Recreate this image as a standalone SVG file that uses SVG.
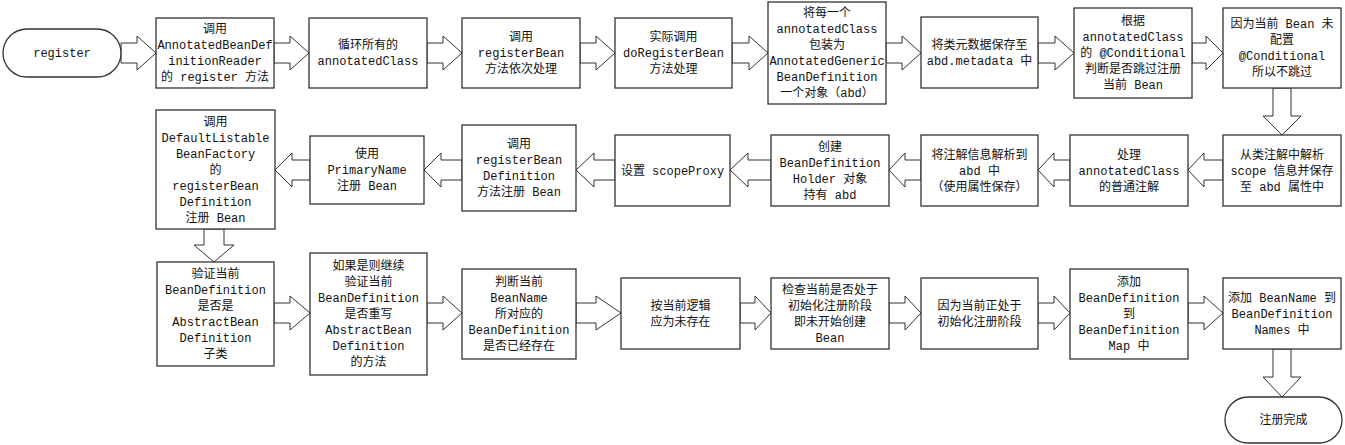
<svg xmlns="http://www.w3.org/2000/svg" width="1345" height="445" viewBox="0 0 1345 445">
<style>
.b{fill:#fff;stroke:#333;stroke-width:1.3}
.a{fill:#fff;stroke:#333;stroke-width:1}
text{font-family:"Liberation Mono","Noto Sans CJK SC",monospace;font-size:12px;fill:#111;text-anchor:middle}
</style>
<rect width="1345" height="445" fill="#fff"/>
<g id="connectors">
<polygon class="a" points="121,43 137,43 137,36 156,53 137,70 137,63 121,63"/>
<polygon class="a" points="274,43 290,43 290,36 309,53 290,70 290,63 274,63"/>
<polygon class="a" points="427,43 443,43 443,36 462,53 443,70 443,63 427,63"/>
<polygon class="a" points="580,43 596,43 596,36 615,53 596,70 596,63 580,63"/>
<polygon class="a" points="732,43 749,43 749,36 768,53 749,70 749,63 732,63"/>
<polygon class="a" points="886,43 902,43 902,36 921,53 902,70 902,63 886,63"/>
<polygon class="a" points="1038,43 1055,43 1055,36 1074,53 1055,70 1055,63 1038,63"/>
<polygon class="a" points="1192,43 1206,43 1206,36 1223,53 1206,70 1206,63 1192,63"/>
<polygon class="a" points="1273,88 1291,88 1291,116 1301,116 1282,135 1263,116 1273,116"/>
<polygon class="a" points="1223,160 1204,160 1204,153 1188,170 1204,187 1204,180 1223,180"/>
<polygon class="a" points="1070,160 1054,160 1054,153 1038,170 1054,187 1054,180 1070,180"/>
<polygon class="a" points="921,160 905,160 905,153 889,170 905,187 905,180 921,180"/>
<polygon class="a" points="771,160 748,160 748,153 730,170 748,187 748,180 771,180"/>
<polygon class="a" points="615,160 594,160 594,153 576,170 594,187 594,180 615,180"/>
<polygon class="a" points="462,160 441,160 441,153 424,170 441,187 441,180 462,180"/>
<polygon class="a" points="310,160 292,160 292,153 275,170 292,187 292,180 310,180"/>
<polygon class="a" points="204,229 224,229 224,245 234,245 214,262 194,245 204,245"/>
<polygon class="a" points="274,303 290,303 290,296 310,313 290,330 290,323 274,323"/>
<polygon class="a" points="427,303 443,303 443,296 462,313 443,330 443,323 427,323"/>
<polygon class="a" points="576,303 596,303 596,296 621,313 596,330 596,323 576,323"/>
<polygon class="a" points="740,303 755,303 755,296 771,313 755,330 755,323 740,323"/>
<polygon class="a" points="889,303 905,303 905,296 921,313 905,330 905,323 889,323"/>
<polygon class="a" points="1038,303 1054,303 1054,296 1070,313 1054,330 1054,323 1038,323"/>
<polygon class="a" points="1188,303 1204,303 1204,296 1223,313 1204,330 1204,323 1188,323"/>
<polygon class="a" points="1273,349 1291,349 1291,377 1301,377 1282,397 1263,377 1273,377"/>
</g>
<g id="start"><rect class="b" x="3" y="29" width="118" height="48" rx="24"/><text x="62" y="57">register</text></g>
<g id="b1"><rect class="b" x="156" y="18" width="118" height="70"/><text y="33"><tspan x="215">调用</tspan><tspan x="215" dy="16">AnnotatedBeanDef</tspan><tspan x="215" dy="16">initionReader</tspan><tspan x="215" dy="16">的 register 方法</tspan></text></g>
<g id="b2"><rect class="b" x="309" y="18" width="118" height="70"/><text y="49"><tspan x="368">循环所有的</tspan><tspan x="368" dy="16">annotatedClass</tspan></text></g>
<g id="b3"><rect class="b" x="462" y="18" width="118" height="70"/><text y="41"><tspan x="521">调用</tspan><tspan x="521" dy="16">registerBean</tspan><tspan x="521" dy="16">方法依次处理</tspan></text></g>
<g id="b4"><rect class="b" x="615" y="18" width="117" height="70"/><text y="41"><tspan x="673.5">实际调用</tspan><tspan x="673.5" dy="16">doRegisterBean</tspan><tspan x="673.5" dy="16">方法处理</tspan></text></g>
<g id="b5"><rect class="b" x="768" y="2" width="118" height="102"/><text y="17"><tspan x="827">将每一个</tspan><tspan x="827" dy="16">annotatedClass</tspan><tspan x="827" dy="16">包装为</tspan><tspan x="827" dy="16">AnnotatedGeneric</tspan><tspan x="827" dy="16">BeanDefinition</tspan><tspan x="827" dy="16">一个对象（abd）</tspan></text></g>
<g id="b6"><rect class="b" x="921" y="17" width="117" height="71"/><text y="49"><tspan x="979.5">将类元数据保存至</tspan><tspan x="979.5" dy="16">abd.metadata 中</tspan></text></g>
<g id="b7"><rect class="b" x="1074" y="8" width="118" height="90"/><text y="25"><tspan x="1133">根据</tspan><tspan x="1133" dy="16">annotatedClass</tspan><tspan x="1133" dy="16">的 @Conditional</tspan><tspan x="1133" dy="16">判断是否跳过注册</tspan><tspan x="1133" dy="16">当前 Bean</tspan></text></g>
<g id="b8"><rect class="b" x="1223" y="8" width="118" height="80"/><text y="28"><tspan x="1282">因为当前 Bean 未</tspan><tspan x="1282" dy="16">配置</tspan><tspan x="1282" dy="16">@Conditional</tspan><tspan x="1282" dy="16">所以不跳过</tspan></text></g>
<g id="c1"><rect class="b" x="1223" y="135" width="118" height="71"/><text y="158.5"><tspan x="1282">从类注解中解析</tspan><tspan x="1282" dy="16">scope 信息并保存</tspan><tspan x="1282" dy="16">至 abd 属性中</tspan></text></g>
<g id="c2"><rect class="b" x="1070" y="135" width="118" height="71"/><text y="158.5"><tspan x="1129">处理</tspan><tspan x="1129" dy="16">annotatedClass</tspan><tspan x="1129" dy="16">的普通注解</tspan></text></g>
<g id="c3"><rect class="b" x="921" y="135" width="117" height="71"/><text y="158.5"><tspan x="979.5">将注解信息解析到</tspan><tspan x="979.5" dy="16">abd 中</tspan><tspan x="979.5" dy="16">（使用属性保存）</tspan></text></g>
<g id="c4"><rect class="b" x="771" y="135" width="118" height="71"/><text y="150.5"><tspan x="830">创建</tspan><tspan x="830" dy="16">BeanDefinition</tspan><tspan x="830" dy="16">Holder 对象</tspan><tspan x="830" dy="16">持有 abd</tspan></text></g>
<g id="c5"><rect class="b" x="615" y="135" width="115" height="71"/><text x="672.5" y="174.5">设置 scopeProxy</text></g>
<g id="c6"><rect class="b" x="462" y="125" width="114" height="86"/><text y="148"><tspan x="519">调用</tspan><tspan x="519" dy="16">registerBean</tspan><tspan x="519" dy="16">Definition</tspan><tspan x="519" dy="16">方法注册 Bean</tspan></text></g>
<g id="c7"><rect class="b" x="310" y="136" width="114" height="68"/><text y="158"><tspan x="367">使用</tspan><tspan x="367" dy="16">PrimaryName</tspan><tspan x="367" dy="16">注册 Bean</tspan></text></g>
<g id="c8"><rect class="b" x="156" y="110" width="119" height="119"/><text y="125.5"><tspan x="215.5">调用</tspan><tspan x="215.5" dy="16">DefaultListable</tspan><tspan x="215.5" dy="16">BeanFactory</tspan><tspan x="215.5" dy="16">的</tspan><tspan x="215.5" dy="16">registerBean</tspan><tspan x="215.5" dy="16">Definition</tspan><tspan x="215.5" dy="16">注册 Bean</tspan></text></g>
<g id="d1"><rect class="b" x="157" y="262" width="117" height="104"/><text y="278"><tspan x="215.5">验证当前</tspan><tspan x="215.5" dy="16">BeanDefinition</tspan><tspan x="215.5" dy="16">是否是</tspan><tspan x="215.5" dy="16">AbstractBean</tspan><tspan x="215.5" dy="16">Definition</tspan><tspan x="215.5" dy="16">子类</tspan></text></g>
<g id="d2"><rect class="b" x="310" y="253" width="117" height="122"/><text y="270"><tspan x="368.5">如果是则继续</tspan><tspan x="368.5" dy="16">验证当前</tspan><tspan x="368.5" dy="16">BeanDefinition</tspan><tspan x="368.5" dy="16">是否重写</tspan><tspan x="368.5" dy="16">AbstractBean</tspan><tspan x="368.5" dy="16">Definition</tspan><tspan x="368.5" dy="16">的方法</tspan></text></g>
<g id="d3"><rect class="b" x="462" y="269" width="114" height="90"/><text y="286"><tspan x="519">判断当前</tspan><tspan x="519" dy="16">BeanName</tspan><tspan x="519" dy="16">所对应的</tspan><tspan x="519" dy="16">BeanDefinition</tspan><tspan x="519" dy="16">是否已经存在</tspan></text></g>
<g id="d4"><rect class="b" x="621" y="278" width="119" height="71"/><text y="309.5"><tspan x="680.5">按当前逻辑</tspan><tspan x="680.5" dy="16">应为未存在</tspan></text></g>
<g id="d5"><rect class="b" x="771" y="278" width="118" height="71"/><text y="293.5"><tspan x="830">检查当前是否处于</tspan><tspan x="830" dy="16">初始化注册阶段</tspan><tspan x="830" dy="16">即未开始创建</tspan><tspan x="830" dy="16">Bean</tspan></text></g>
<g id="d6"><rect class="b" x="921" y="278" width="117" height="71"/><text y="309.5"><tspan x="979.5">因为当前正处于</tspan><tspan x="979.5" dy="16">初始化注册阶段</tspan></text></g>
<g id="d7"><rect class="b" x="1070" y="269" width="118" height="90"/><text y="286"><tspan x="1129">添加</tspan><tspan x="1129" dy="16">BeanDefinition</tspan><tspan x="1129" dy="16">到</tspan><tspan x="1129" dy="16">BeanDefinition</tspan><tspan x="1129" dy="16">Map 中</tspan></text></g>
<g id="d8"><rect class="b" x="1223" y="278" width="118" height="71"/><text y="301.5"><tspan x="1282">添加 BeanName 到</tspan><tspan x="1282" dy="16">BeanDefinition</tspan><tspan x="1282" dy="16">Names 中</tspan></text></g>
<g id="end"><rect class="b" x="1225" y="397" width="117" height="46" rx="23"/><text x="1283.5" y="424">注册完成</text></g>
</svg>
